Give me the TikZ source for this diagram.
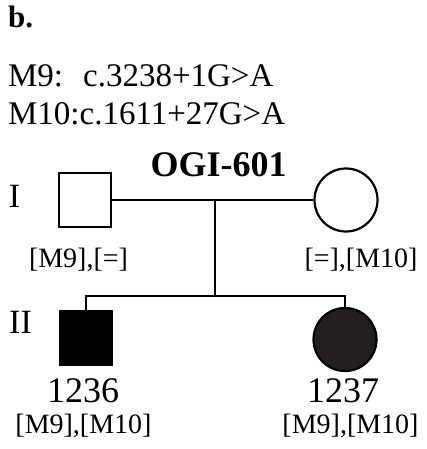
\documentclass[tikz,border=0pt]{standalone}
\usepackage{fontspec}
\setmainfont{Liberation Serif}
\definecolor{affected}{HTML}{231F20}
\begin{document}
\begin{tikzpicture}[x=1pt,y=-1pt,line width=2.2pt,
  txt/.style={inner sep=0pt,anchor=base,font=\fontsize{28}{30}\selectfont},
  big/.style={font=\fontsize{36}{38}\selectfont},
  gen/.style={font=\fontsize{34}{36}\selectfont},
  male/.style={draw,rectangle,inner sep=0pt,minimum width=52pt,minimum height=54pt},
  female/.style={draw,circle,inner sep=0pt,minimum size=63pt}]
\useasboundingbox (0,0) rectangle (427,449);

% header
\node[txt,anchor=base west,font=\fontsize{31}{32}\selectfont\bfseries] (panel) at (7,28) {b.};
\node[txt,anchor=base west,font=\fontsize{33}{36}\selectfont] (mut1) at (7,87) {M9:\hspace{20pt}c.3238+1G>A};
\node[txt,anchor=base west,font=\fontsize{33}{36}\selectfont] (mut2) at (7,125) {M10:c.1611+27G>A};
\node[txt,font=\fontsize{36}{38}\selectfont\bfseries] (fam) at (218.5,176) {OGI-601};

% generation I
\node[male] (f) at (85,200) {};
\node[female] (m) at (346,200) {};
\coordinate (mid) at (215,200);
\coordinate (sib) at (215,296);
\draw (f) -- (m);
\draw (mid) -- (sib);

% generation II
\node[male,fill=black] (son) at (86,338) {};
\node[female,fill=affected] (dau) at (345,339.5) {};
\draw (son) |- (sib) -| (dau);

% labels
\node[txt,gen] (gen1) at (14.5,207) {I};
\node[txt,gen] (gen2) at (20.5,333) {II};
\node[txt] (fgt) at (78.5,267) {[M9],[=]};
\node[txt] (mgt) at (361,267) {[=],[M10]};
\node[txt,big] (id1) at (83,402) {1236};
\node[txt,big] (id2) at (343,402) {1237};
\node[txt] (sgt) at (83.5,433) {[M9],[M10]};
\node[txt] (dgt) at (350.5,433) {[M9],[M10]};
\end{tikzpicture}
\end{document}
